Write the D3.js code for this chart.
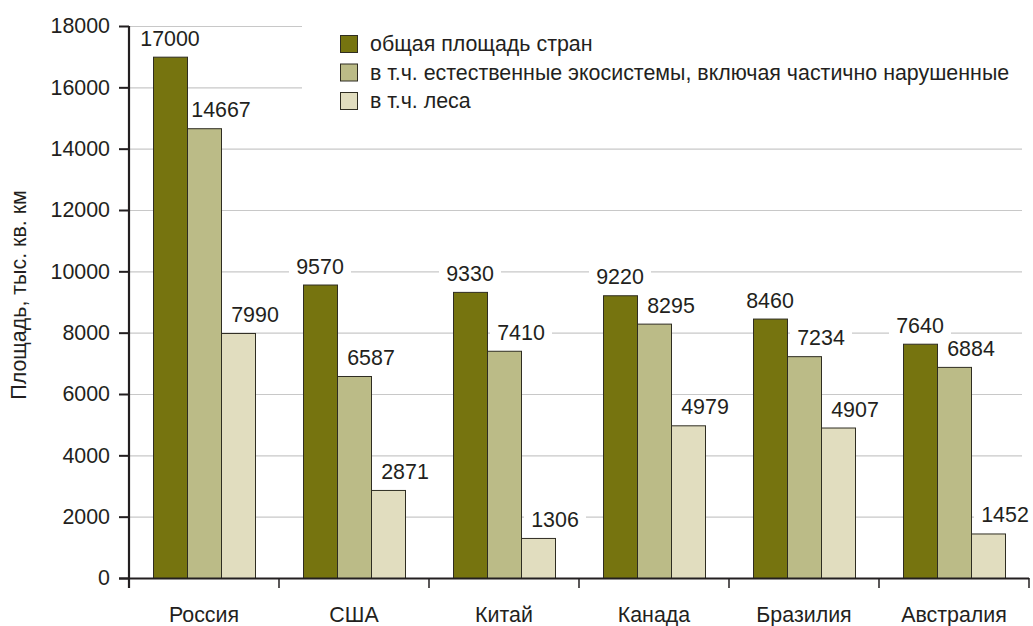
<!DOCTYPE html>
<html>
    <head>
        <meta charset="utf-8">
        <script src="https://d3js.org/d3.v7.min.js"></script>
        <style>
            body {
                margin: 0;
                background: white;
            }
            text {
                font-family: "Liberation Sans", Arial, sans-serif;
                fill: #231f20;
            }
        </style>
    </head>
    <body>
    </body>
    <script>

        const countries = ['Россия', 'США', 'Китай', 'Канада', 'Бразилия', 'Австралия'];
        const seriesNames = [
            'общая площадь стран',
            'в т.ч. естественные экосистемы, включая частично нарушенные',
            'в т.ч. леса'
        ];
        const totalArea = [17000, 9570, 9330, 9220, 8460, 7640];
        const naturalArea = [14667, 6587, 7410, 8295, 7234, 6884];
        const forestArea = [7990, 2871, 1306, 4979, 4907, 1452];
        const yTicks = [0, 2000, 4000, 6000, 8000, 10000, 12000, 14000, 16000, 18000];

        const colors = ['#76740f', '#bbbb87', '#e1ddbf'];
        const values = [totalArea, naturalArea, forestArea];

        const width = 1033;
        const height = 626;
        const plotLeft = 129, plotRight = 1029, plotTop = 26, plotBottom = 578;
        const fontSize = '21.4px';

        var svg = d3.select('body')
            .append('svg')
            .attr('width', width)
            .attr('height', height);

        var xScale = d3.scaleBand()
            .domain(countries)
            .range([plotLeft, plotRight]);

        var xInner = d3.scaleBand()
            .domain([0, 1, 2])
            .range([24, 126]);

        var yScale = d3.scaleLinear()
            .domain([0, 18000])
            .range([plotBottom, plotTop]);

        // gridlines
        svg.append('g')
            .selectAll('line')
            .data(yTicks.filter(d => d > 0))
            .enter()
            .append('line')
            .attr('x1', plotLeft)
            .attr('x2', 1022)
            .attr('y1', d => yScale(d) + 0.5)
            .attr('y2', d => yScale(d) + 0.5)
            .style('stroke', '#c8c8c8')
            .style('stroke-width', 1.2);

        // bars
        var rows = [];
        values.forEach(function(vals, s) {
            vals.forEach(function(v, i) {
                rows.push({country: countries[i], series: s, value: v});
            });
        });

        svg.append('g')
            .selectAll('rect')
            .data(rows)
            .enter()
            .append('rect')
            .attr('x', d => xScale(d.country) + xInner(d.series) + 0.5)
            .attr('y', d => yScale(d.value) + 0.5)
            .attr('width', xInner.bandwidth())
            .attr('height', d => yScale(0) - yScale(d.value))
            .style('fill', d => colors[d.series])
            .style('stroke', '#2f2d22')
            .style('stroke-width', 1);

        // legend (white box hides gridlines behind it)
        var legend = svg.append('g');
        legend.append('rect')
            .attr('x', 302)
            .attr('y', 15)
            .attr('width', 728)
            .attr('height', 105)
            .style('fill', 'white');

        seriesNames.forEach(function(name, s) {
            var ly = 44 + s * 28.5;
            legend.append('rect')
                .attr('x', 340.5)
                .attr('y', ly - 8.5)
                .attr('width', 17)
                .attr('height', 17)
                .style('fill', colors[s])
                .style('stroke', '#2f2d22');
            legend.append('text')
                .attr('x', 370)
                .attr('y', ly + 7)
                .style('font-size', fontSize)
                .text(name);
        });

        // value labels
        var labels = svg.append('g')
            .selectAll('g')
            .data(rows)
            .enter()
            .append('g')
            .attr('transform', function(d) {
                var cx = xScale(d.country) + xInner(d.series) + xInner.bandwidth() / 2;
                if (d.series > 0) cx += 17;
                return 'translate(' + cx + ',' + (yScale(d.value) - 11) + ')';
            });

        labels.append('rect')
            .attr('x', -31)
            .attr('y', -17)
            .attr('width', 62)
            .attr('height', 20)
            .style('fill', 'white');

        labels.append('text')
            .attr('text-anchor', 'middle')
            .style('font-size', fontSize)
            .text(d => d.value);

        // y axis
        var yAxis = svg.append('g')
            .attr('transform', 'translate(' + plotLeft + ',0)')
            .call(d3.axisLeft(yScale).tickValues(yTicks).tickSize(10).tickPadding(9).tickFormat(d3.format('d')));
        yAxis.select('.domain').remove();
        yAxis.selectAll('line').style('stroke', '#231f20').style('stroke-width', 2);
        yAxis.selectAll('text')
            .style('font-size', fontSize)
            .style('font-family', '"Liberation Sans", Arial, sans-serif')
            .style('fill', '#231f20');

        svg.append('line')
            .attr('x1', plotLeft)
            .attr('x2', plotLeft)
            .attr('y1', plotTop)
            .attr('y2', plotBottom + 10)
            .style('stroke', '#231f20')
            .style('stroke-width', 2.2);

        // x axis
        svg.append('line')
            .attr('x1', plotLeft - 10)
            .attr('x2', plotRight)
            .attr('y1', plotBottom + 0.5)
            .attr('y2', plotBottom + 0.5)
            .style('stroke', '#231f20')
            .style('stroke-width', 2.2);

        svg.append('g')
            .selectAll('line')
            .data(countries)
            .enter()
            .append('line')
            .attr('x1', d => xScale(d) + xScale.bandwidth())
            .attr('x2', d => xScale(d) + xScale.bandwidth())
            .attr('y1', plotBottom)
            .attr('y2', plotBottom + 10)
            .style('stroke', '#231f20')
            .style('stroke-width', 1.5);

        svg.append('g')
            .selectAll('text')
            .data(countries)
            .enter()
            .append('text')
            .attr('x', d => xScale(d) + xScale.bandwidth() / 2)
            .attr('y', 622)
            .attr('text-anchor', 'middle')
            .style('font-size', fontSize)
            .text(d => d);

        // y axis title
        svg.append('text')
            .attr('transform', 'translate(26,295) rotate(-90)')
            .attr('text-anchor', 'middle')
            .style('font-size', fontSize)
            .text('Площадь, тыс. кв. км');

    </script>
</html>
